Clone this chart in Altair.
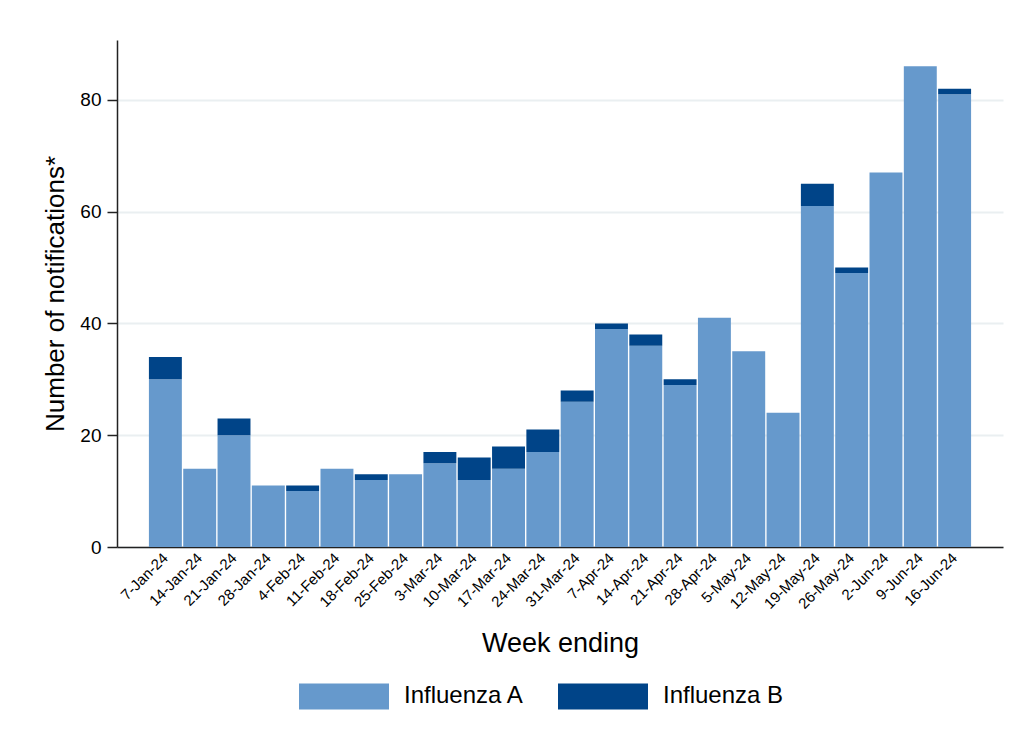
import altair as alt
import pandas as pd

weeks = ["7-Jan-24", "14-Jan-24", "21-Jan-24", "28-Jan-24", "4-Feb-24", "11-Feb-24",
         "18-Feb-24", "25-Feb-24", "3-Mar-24", "10-Mar-24", "17-Mar-24", "24-Mar-24",
         "31-Mar-24", "7-Apr-24", "14-Apr-24", "21-Apr-24", "28-Apr-24", "5-May-24",
         "12-May-24", "19-May-24", "26-May-24", "2-Jun-24", "9-Jun-24", "16-Jun-24"]
flu_a = [30, 14, 20, 11, 10, 14, 12, 13, 15, 12, 14, 17, 26, 39, 36, 29, 41, 35, 24, 61, 49, 67, 86, 81]
flu_b = [4, 0, 3, 0, 1, 0, 1, 0, 2, 4, 4, 4, 2, 1, 2, 1, 0, 0, 0, 4, 1, 0, 0, 1]
series = ["Influenza A", "Influenza B"]
colors = ["#6699CC", "#004488"]

rows = []
for w, a, b in zip(weeks, flu_a, flu_b):
    rows.append({"week": w, "type": series[0], "n": a, "ord": 0})
    rows.append({"week": w, "type": series[1], "n": b, "ord": 1})
df = pd.DataFrame(rows)

FONT = "Liberation Sans"
sym = "M-1,-0.289L1,-0.289L1,0.289L-1,0.289Z"

chart = alt.Chart(df).mark_bar().encode(
    x=alt.X("week:N", sort=weeks,
            scale=alt.Scale(paddingInner=0.04, paddingOuter=0.93),
            axis=alt.Axis(title="Week ending", labelAngle=-45, labelAlign="right",
                          labelBaseline="middle", labelPadding=8, ticks=False,
                          labelFontSize=15, titleFontSize=27, titleFontWeight="normal",
                          titlePadding=19, domainColor="#222222", domainWidth=1.5,
                          labelColor="#000000", titleColor="#000000")),
    y=alt.Y("n:Q", stack="zero", scale=alt.Scale(domain=[0, 90.7], nice=False),
            axis=alt.Axis(title="Number of notifications*", values=[0, 20, 40, 60, 80],
                          tickSize=10, tickColor="#222222", tickWidth=1.5,
                          labelFontSize=19, labelPadding=6, titleFontSize=26,
                          titleFontWeight="normal", titlePadding=11,
                          domainColor="#222222", domainWidth=1.5,
                          gridColor="#EAEFF1", gridWidth=2,
                          labelColor="#000000", titleColor="#000000")),
    color=alt.Color("type:N", scale=alt.Scale(domain=series, range=colors),
                    legend=alt.Legend(title=None, orient="none", direction="horizontal",
                                      legendX=182, legendY=611, columns=2,
                                      symbolType=sym, symbolSize=8100,
                                      symbolStrokeWidth=0, symbolOpacity=1,
                                      labelFontSize=24, labelOffset=15,
                                      columnPadding=33, padding=0,
                                      labelColor="#000000")),
    order=alt.Order("ord:Q", sort="ascending"),
).properties(
    width=886, height=507,
    autosize=alt.AutoSizeParams(type="none"),
    padding={"left": 109, "top": 32, "right": 3, "bottom": 190},
).configure(font=FONT).configure_view(stroke=None).configure_axisX(grid=False)

chart.save("out.html", embed_options={"renderer": "svg", "actions": False})
